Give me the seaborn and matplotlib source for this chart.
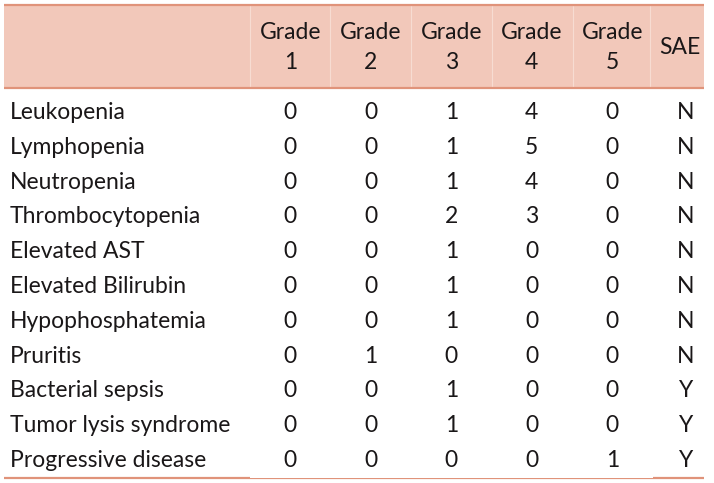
import matplotlib
matplotlib.use("Agg")
import matplotlib.pyplot as plt
import numpy as np
import pandas as pd
import seaborn as sns
from matplotlib.colors import ListedColormap

# table content
events = ["Leukopenia", "Lymphopenia", "Neutropenia", "Thrombocytopenia",
          "Elevated AST", "Elevated Bilirubin", "Hypophosphatemia", "Pruritis",
          "Bacterial sepsis", "Tumor lysis syndrome", "Progressive disease"]
grade_cols = ["Grade\n1", "Grade\n2", "Grade\n3", "Grade\n4", "Grade\n5"]
grade1 = [0, 0, 0, 0, 0, 0, 0, 0, 0, 0, 0]
grade2 = [0, 0, 0, 0, 0, 0, 0, 1, 0, 0, 0]
grade3 = [1, 1, 1, 2, 1, 1, 1, 0, 1, 1, 0]
grade4 = [4, 5, 4, 3, 0, 0, 0, 0, 0, 0, 0]
grade5 = [0, 0, 0, 0, 0, 0, 0, 0, 0, 0, 1]
sae = ["N", "N", "N", "N", "N", "N", "N", "N", "Y", "Y", "Y"]

# layout (pixels, figure is 714 x 483)
W, H = 714, 483
TOP, HEAD_BOT, BOT = 5, 88, 478
LABEL_X = 10
BODY_LEFT, COL_W = 250, 80.5
SAE_HEAD_X, SAE_X = 680, 686
COL_EDGES = [250, 330, 411, 492, 573, 650]

HEAD_FILL = "#F2C8BA"
RULE = "#E0937A"
SEP = "#F7DCD2"
INK = "#1A1718"
FS = 16.5

sns.set_theme(style="white")
plt.rcParams["font.family"] = ["Lato", "DejaVu Sans"]

df = pd.DataFrame(np.column_stack([grade1, grade2, grade3, grade4, grade5]),
                  index=events, columns=grade_cols)

fig = plt.figure(figsize=(W / 100, H / 100), dpi=100)

# background axis in pixel coordinates: header band, rules, separators
bg = fig.add_axes([0, 0, 1, 1])
bg.set_xlim(0, W)
bg.set_ylim(H, 0)
bg.axis("off")
bg.axhspan(TOP, HEAD_BOT, xmin=4 / W, xmax=704 / W, color=HEAD_FILL, lw=0)
for x in COL_EDGES:
    bg.plot([x, x], [TOP + 1, HEAD_BOT - 1], color=SEP, lw=0.8)
for y in (TOP, HEAD_BOT, BOT):
    bg.plot([4, 704], [y, y], color=RULE, lw=1.6, solid_capstyle="butt")

centers = [BODY_LEFT + COL_W * (i + 0.5) for i in range(len(grade_cols))]
for cx, name in zip(centers, grade_cols):
    bg.text(cx, (TOP + HEAD_BOT) / 2 + 1, name, ha="center", va="center",
            fontsize=FS, color=INK, linespacing=1.55)
bg.text(SAE_HEAD_X, (TOP + HEAD_BOT) / 2 + 1, "SAE", ha="center", va="center",
        fontsize=FS, color=INK)

# body: numeric grade counts drawn as an annotated heatmap with white cells
body_top = HEAD_BOT + 7
ax = fig.add_axes([BODY_LEFT / W, (H - BOT) / H,
                   COL_W * len(grade_cols) / W, (BOT - body_top) / H])
sns.heatmap(df, ax=ax, cmap=ListedColormap(["white"]), cbar=False,
            annot=True, fmt="d", annot_kws={"fontsize": FS, "color": INK})
ax.set_xticks([])
ax.set_yticks([])
ax.set_xlabel("")
ax.set_ylabel("")

# row labels and SAE column in the heatmap's data coordinates
lab_x = (LABEL_X - BODY_LEFT) / COL_W
sae_x = (SAE_X - BODY_LEFT) / COL_W
for i, (name, flag) in enumerate(zip(events, sae)):
    ax.text(lab_x, i + 0.5, name, ha="left", va="center", fontsize=FS,
            color=INK, clip_on=False)
    ax.text(sae_x, i + 0.5, flag, ha="center", va="center", fontsize=FS,
            color=INK, clip_on=False)

fig.savefig("out.png", dpi=100, facecolor="white")
